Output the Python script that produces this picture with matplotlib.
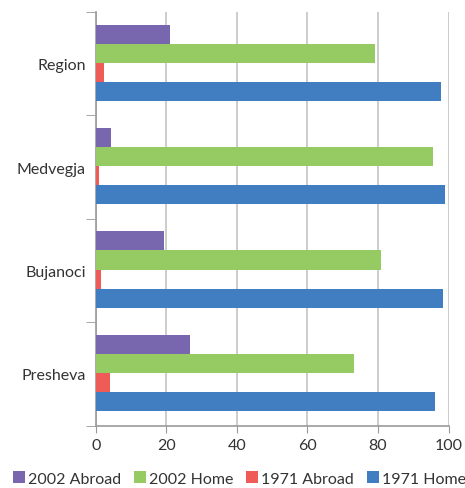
import numpy as np
import matplotlib
matplotlib.use("Agg")
import matplotlib.pyplot as plt

# Data (percent)
places = ['Presheva', 'Bujanoci', 'Medvegja', 'Region']
abroad_2002 = [26.7, 19.4, 4.2, 21.1]
home_2002 = [73.2, 80.9, 95.6, 79.2]
abroad_1971 = [4.0, 1.5, 0.9, 2.4]
home_1971 = [96.2, 98.4, 99.0, 97.9]

series = [
    ('2002 Abroad', abroad_2002, '#7867AE'),
    ('2002 Home', home_2002, '#96CB64'),
    ('1971 Abroad', abroad_1971, '#EF5B57'),
    ('1971 Home', home_1971, '#417DC1'),
]

plt.rcParams['font.family'] = ['Lato', 'DejaVu Sans']
plt.rcParams['font.size'] = 11.5

fig = plt.figure(figsize=(4.65, 4.89), dpi=100)
ax = fig.add_axes([95.7 / 465, 1 - 426.7 / 489, (448.5 - 95.7) / 465, (426.7 - 13) / 489])

y = np.arange(len(places))
h = 0.184
# top bar in each group is 2002 Abroad, bottom is 1971 Home
offsets = [1.5 * h, 0.5 * h, -0.5 * h, -1.5 * h]
for (label, vals, color), off in zip(series, offsets):
    ax.barh(y + off + 0.01, vals, height=h, color=color, label=label, zorder=3)

ax.set_xlim(0, 100)
ax.set_ylim(-0.5, len(places) - 0.5)
ax.set_xticks([0, 20, 40, 60, 80, 100])
ax.set_yticks(y)
ax.set_yticklabels(places, color='#333333')
ax.set_yticks(np.arange(-0.5, len(places), 1), minor=True)
ax.tick_params(axis='y', which='major', length=0, pad=7)
ax.tick_params(axis='y', which='minor', length=7, color='#999999', direction='out')
ax.tick_params(axis='x', length=5, color='#999999', direction='out', pad=4)
ax.tick_params(axis='x', labelcolor='#333333')

ax.grid(axis='x', color='#c4c4c4', linewidth=1.2, zorder=0)
for side in ['top', 'right']:
    ax.spines[side].set_visible(False)
ax.spines['left'].set_color('#999999')
ax.spines['bottom'].set_color('#999999')
ax.spines['left'].set_linewidth(1.2)
ax.spines['bottom'].set_linewidth(1.2)

fig.legend(loc='lower center', bbox_to_anchor=(0.515, -0.025), ncol=4, frameon=False,
           handlelength=0.75, handleheight=0.75, handletextpad=0.2, columnspacing=0.8,
           labelcolor='#333333')

fig.savefig('out.png', dpi=100)
